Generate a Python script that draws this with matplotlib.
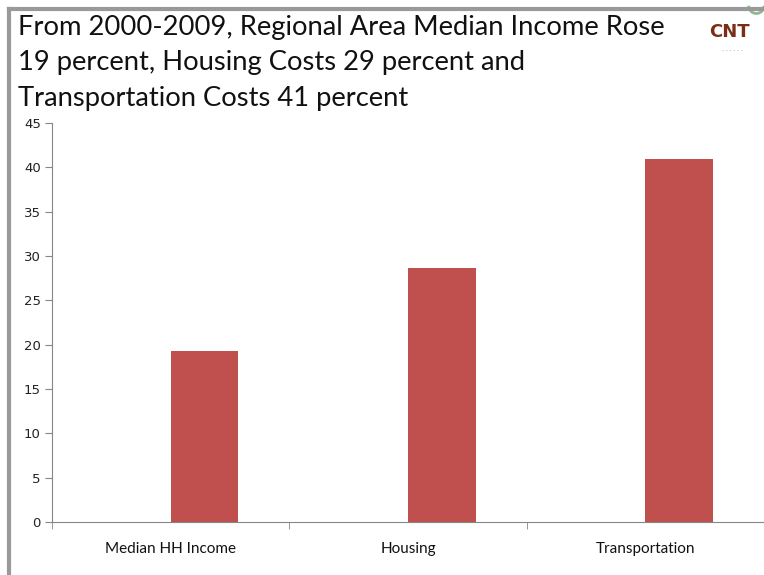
import matplotlib
matplotlib.use("Agg")
import matplotlib.pyplot as plt
from matplotlib.patches import Arc

categories = ["Median HH Income", "Housing", "Transportation"]
values = [19.3, 28.6, 40.9]
y_ticks = [0, 5, 10, 15, 20, 25, 30, 35, 40, 45]
title_lines = ["From 2000-2009, Regional Area Median Income Rose",
               "19 percent, Housing Costs 29 percent and",
               "Transportation Costs 41 percent"]

bar_color = "#C0504D"
axis_color = "#868686"

fig = plt.figure(figsize=(7.64, 5.75), dpi=100)
ax = fig.add_axes([0.068, 0.092, 0.932, 0.694])

# excel-style clustered bar: the visible series sits right of the category centre
w = 1 / 3.5
x = list(range(len(categories)))
ax.bar(x, values, width=w, align="edge", color=bar_color)

ax.set_xlim(-0.5, len(categories) - 0.5)
ax.set_ylim(0, 45)
ax.set_yticks(y_ticks)
ax.set_yticklabels([str(t) for t in y_ticks], fontsize=9.5, family="DejaVu Sans", color="#222222")

ax.set_xticks(x)
ax.set_xticklabels(categories, fontsize=11, family="Lato", color="#111111")
ax.tick_params(axis="x", which="major", length=0, pad=14)
ax.set_xticks([i - 0.5 for i in range(len(categories) + 1)], minor=True)
ax.tick_params(axis="x", which="minor", length=5, color=axis_color, direction="out")
ax.tick_params(axis="y", length=5, color=axis_color, direction="out", pad=3)

for s in ["top", "right"]:
    ax.spines[s].set_visible(False)
ax.spines["left"].set_color(axis_color)
ax.spines["bottom"].set_color(axis_color)

for i, line in enumerate(title_lines):
    fig.text(0.024, 0.953 - i * 0.062, line, fontsize=19.7, family="Lato",
             color="#111111", va="center", ha="left")

# logo
fig.text(0.955, 0.945, "CNT", fontsize=13, fontweight="bold", family="DejaVu Sans",
         color="#7A2E18", ha="center", va="center")
fig.text(0.958, 0.912, "- - - - - -", fontsize=4, color="#b08070", ha="center", va="center")

# slide frame lines
fig.add_artist(plt.Line2D([0.012, 0.012], [0.0, 0.985], color="#999999", lw=3))
fig.add_artist(plt.Line2D([0.012, 1.0], [0.985, 0.985], color="#999999", lw=3))
fig.add_artist(Arc((0.99, 0.99), 0.02, 0.027, theta1=180, theta2=360,
                   color="#8fb890", lw=2, transform=fig.transFigure))

fig.savefig("out.png", dpi=100)
